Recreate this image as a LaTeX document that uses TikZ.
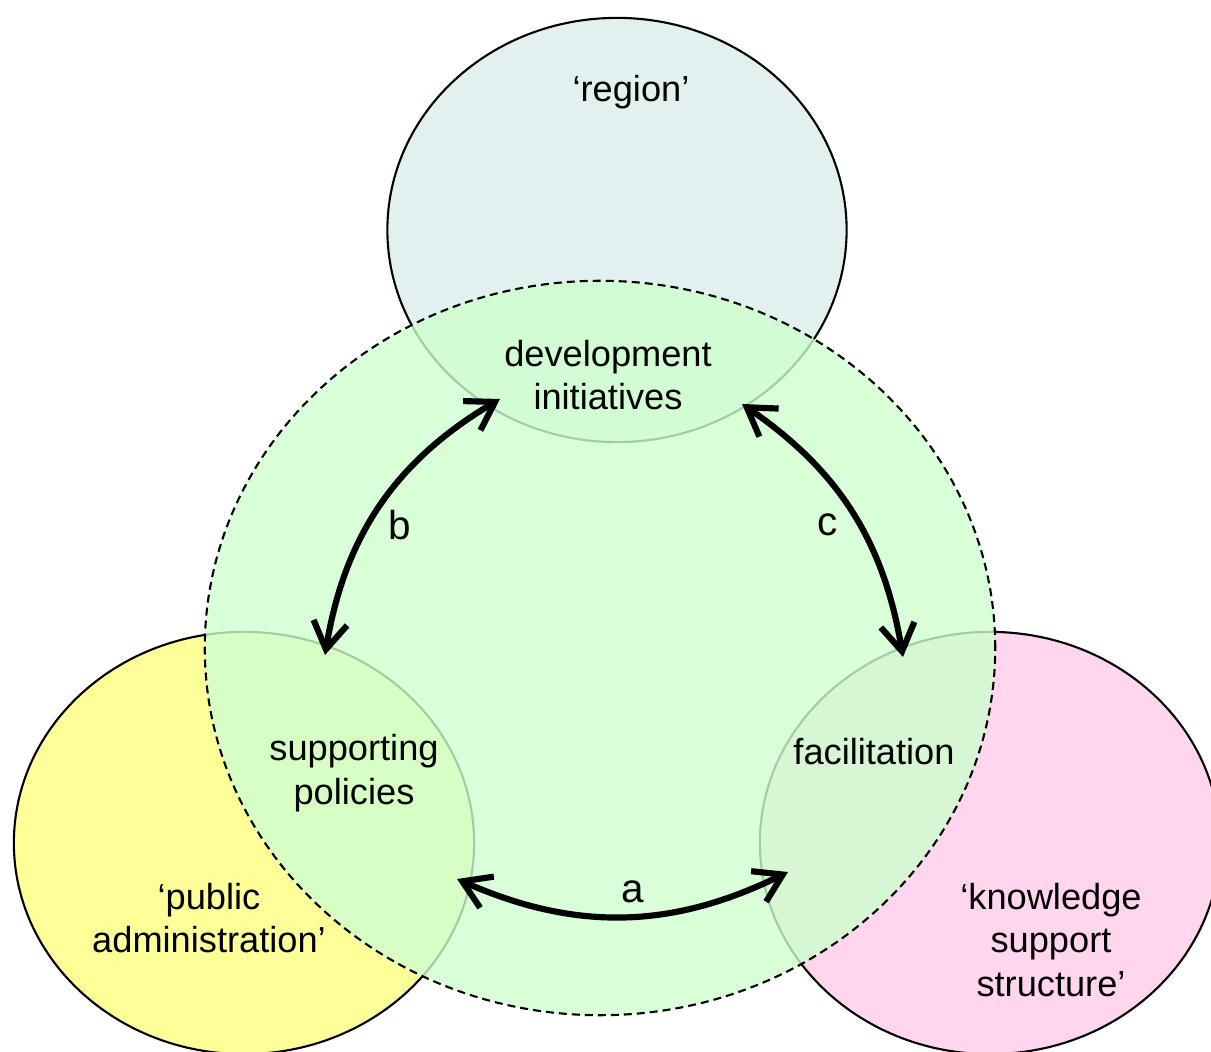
\documentclass[tikz,border=0pt]{standalone}
\usepackage{fontspec}
\setmainfont{Liberation Sans}
\usetikzlibrary{arrows.meta, shapes.geometric}

\definecolor{regionblue}{RGB}{226,240,240}
\definecolor{adminyellow}{RGB}{255,255,153}
\definecolor{knowpink}{RGB}{255,214,238}
\definecolor{initgreen}{RGB}{206,255,206}

\begin{document}
\begin{tikzpicture}[x=0.01cm, y=-0.01cm,
  actor/.style={ellipse, draw=black, line width=0.6pt, inner sep=0pt,
                minimum width=4.6cm, minimum height=4.22cm},
  areatext/.style={align=center, font=\fontsize{10.3}{12.4}\selectfont},
  link/.style={line width=1.75pt,
               {Straight Barb[length=0.27cm,width=0.34cm]}-{Straight Barb[length=0.27cm,width=0.34cm]}},
  linktext/.style={font=\fontsize{11.5}{13}\selectfont}]

 %%Paramaters
%% picture frame, one unit = one pixel of the reference
\useasboundingbox (0,0) rectangle (1211,1052);
\def\bend{25}

%% ***The three actors***
\node[actor, fill=regionblue, minimum width=4.59cm, minimum height=4.24cm] (regioncirc) at (617,230) {};
\node[actor, fill=adminyellow] (admincirc) at (244,843) {};
\node[actor, fill=knowpink] (knowcirc) at (990,843) {};

%% ***Shared field of development***
\node[ellipse, draw=black, line width=0.6pt, inner sep=0pt,
      dash pattern=on 0.08cm off 0.05cm,
      fill=initgreen, fill opacity=0.8, draw opacity=1,
      minimum width=7.9cm, minimum height=7.34cm] (corefield) at (600,648) {};

%% Texts
\node[areatext] (region) at (631,92) {‘region’};
\node[areatext] (devinit) at (608,375) {development\\initiatives};
\node[areatext] (suppol) at (354,773) {supporting\\policies};
\node[areatext] (pubadmin) at (209,918) {‘public\\administration’};
\node[areatext] (facil) at (874,752) {facilitation};
\node[areatext] (knowsup) at (1051,940) {‘knowledge\\support\\structure’};

%% Arrow ends
\coordinate (bstart) at (325,655);
\coordinate (bend) at (500,399);
\coordinate (cstart) at (742,404);
\coordinate (cend) at (903,657);
\coordinate (astart) at (457,879);
\coordinate (aend) at (788,872);

% B
\draw[link] (bstart) to[bend left=\bend] (bend);
\node[linktext] (linkb) at (400,525) {b};
% C
\draw[link] (cstart) to[bend left=23] (cend);
\node[linktext] (linkc) at (828,525) {c};
% A
\draw[link] (astart) to[bend right=\bend] (aend);
\node[linktext] (linka) at (633,892) {a};
\end{tikzpicture}
\end{document}
